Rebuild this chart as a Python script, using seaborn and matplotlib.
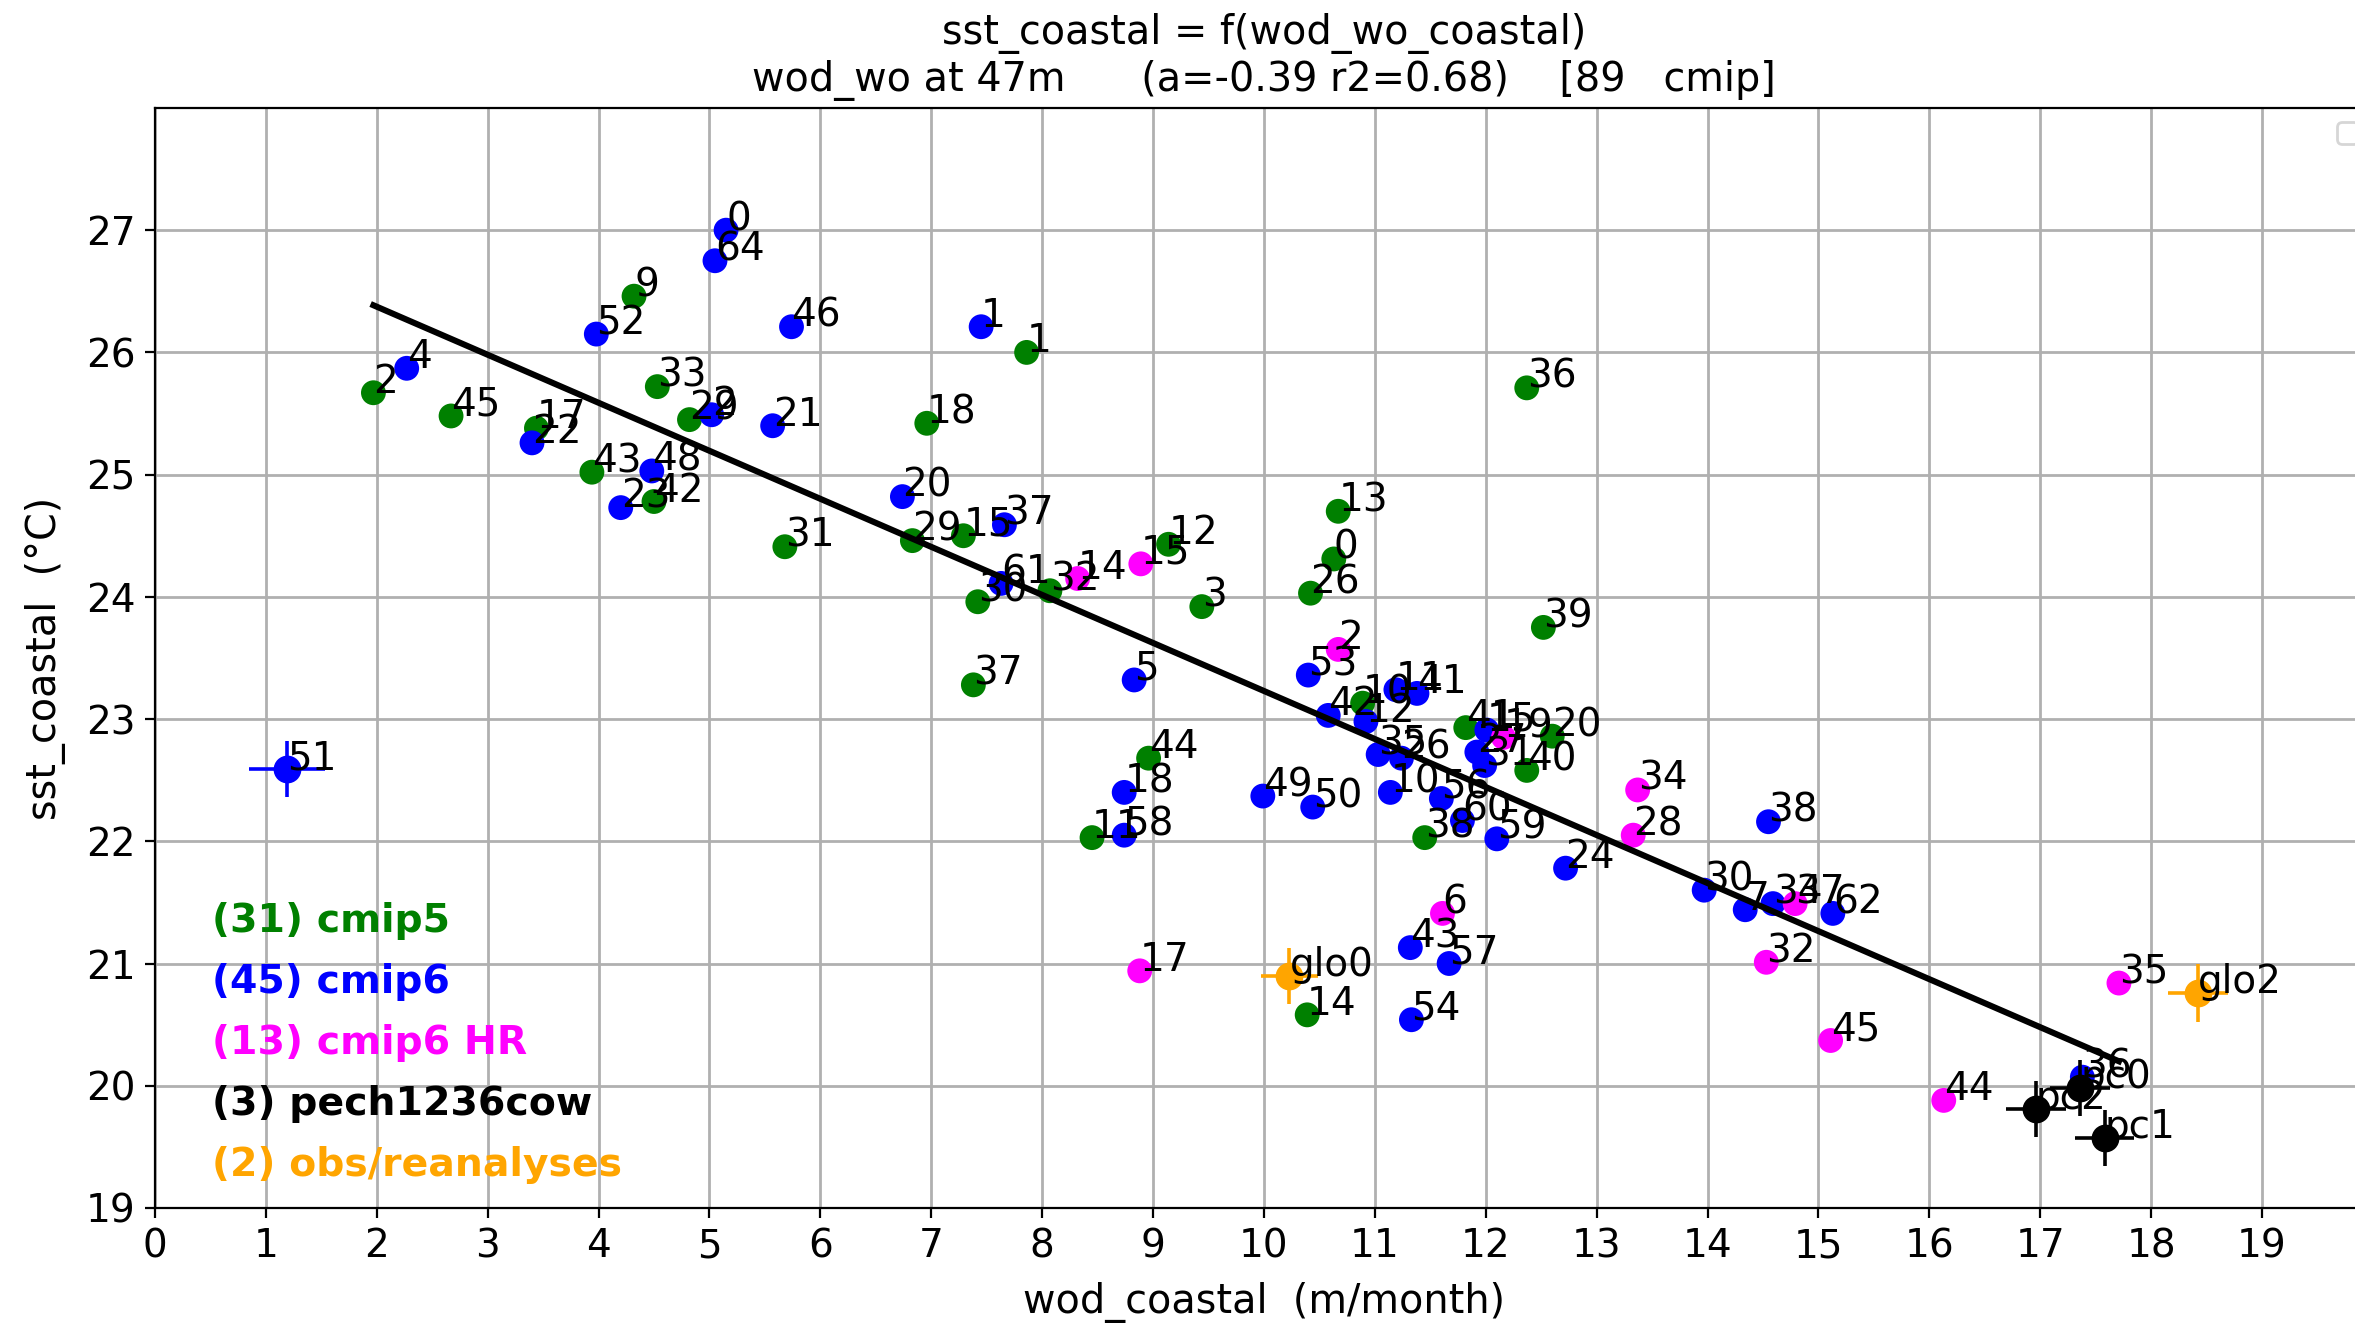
import numpy as np
import pandas as pd
import matplotlib
matplotlib.use("Agg")
import matplotlib.pyplot as plt
import seaborn as sns

# ---------------- data ----------------
cmip5_labels = ["9", "2", "45", "17", "33", "29", "43", "42", "31", "18", "1", "29",
                "15", "30", "32", "12", "3", "26", "0", "13", "36", "39", "37", "44",
                "11", "14", "38", "40", "20", "41", "10"]
cmip5_x = [4.32, 1.97, 2.67, 3.44, 4.53, 4.82, 3.94, 4.50, 5.68, 6.96, 7.86, 6.83,
           7.29, 7.42, 8.07, 9.14, 9.44, 10.42, 10.63, 10.67, 12.37, 12.52, 7.38, 8.96,
           8.45, 10.39, 11.45, 12.37, 12.60, 11.82, 10.89]
cmip5_y = [26.46, 25.67, 25.48, 25.38, 25.72, 25.45, 25.02, 24.78, 24.41, 25.42, 26.00, 24.46,
           24.50, 23.96, 24.05, 24.43, 23.92, 24.03, 24.31, 24.70, 25.71, 23.75, 23.28, 22.68,
           22.03, 20.58, 22.03, 22.58, 22.86, 22.93, 23.13]

cmip6_labels = ["0", "64", "52", "46", "4", "22", "2", "21", "48", "23", "20", "37",
                "61", "1", "5", "18", "58", "49", "50", "53", "42", "12", "11", "41",
                "35", "26", "10", "56", "60", "59", "15", "27", "31", "24", "30", "7",
                "34", "62", "38", "43", "57", "54", "36"]
cmip6_x = [5.15, 5.05, 3.98, 5.74, 2.27, 3.40, 5.02, 5.57, 4.48, 4.20, 6.74, 7.66,
           7.63, 7.45, 8.83, 8.74, 8.74, 9.99, 10.44, 10.40, 10.58, 10.92, 11.19, 11.38,
           11.03, 11.24, 11.14, 11.60, 11.79, 12.10, 12.01, 11.92, 11.99, 12.72, 13.97, 14.34,
           14.59, 15.13, 14.55, 11.32, 11.67, 11.33, 17.38]
cmip6_y = [27.00, 26.75, 26.15, 26.21, 25.87, 25.26, 25.49, 25.40, 25.03, 24.73, 24.82, 24.59,
           24.11, 26.21, 23.32, 22.40, 22.05, 22.37, 22.28, 23.36, 23.03, 22.98, 23.24, 23.21,
           22.71, 22.68, 22.40, 22.35, 22.17, 22.02, 22.91, 22.73, 22.62, 21.78, 21.60, 21.44,
           21.49, 21.41, 22.16, 21.13, 21.00, 20.54, 20.07]

# cmip6 model drawn with error bars
cmip6_err_labels = ["51"]
cmip6_err_x = [1.19]
cmip6_err_y = [22.59]
cmip6_err_xerr = [0.34]
cmip6_err_yerr = [0.23]

hr_labels = ["14", "15", "2", "19", "34", "28", "6", "17", "37", "32", "45", "35", "44"]
hr_x = [8.32, 8.89, 10.67, 12.16, 13.37, 13.33, 11.61, 8.88, 14.79, 14.53, 15.11, 17.71, 16.13]
hr_y = [24.15, 24.27, 23.57, 22.85, 22.42, 22.05, 21.41, 20.94, 21.49, 21.01, 20.37, 20.84, 19.88]

pech_labels = ["pc0", "pc1", "pc2"]
pech_x = [17.36, 17.58, 16.96]
pech_y = [19.98, 19.57, 19.81]
pech_xerr = [0.27, 0.27, 0.27]
pech_yerr = [0.23, 0.23, 0.23]

obs_labels = ["glo0", "glo2"]
obs_x = [10.23, 18.42]
obs_y = [20.90, 20.76]
obs_xerr = [0.26, 0.27]
obs_yerr = [0.23, 0.24]

fit_slope = -0.393
fit_intercept = 27.16

legend_lines = ["(31) cmip5", "(45) cmip6", "(13) cmip6 HR", "(3) pech1236cow", "(2) obs/reanalyses"]
group_names = ["cmip5", "cmip6", "cmip6 HR", "pech1236cow", "obs"]
group_colors = ["green", "blue", "magenta", "black", "orange"]

title_text = ("sst_coastal = f(wod_wo_coastal)\n"
              "wod_wo at 47m      (a=-0.39 r2=0.68)    [89   cmip]")
x_label = "wod_coastal  (m/month)"
y_label = "sst_coastal  (°C)"
x_ticks = list(range(0, 20))
y_ticks = list(range(19, 28))

# ---------------- figure ----------------
plt.rcParams["font.family"] = ["DejaVu Sans"]
fig = plt.figure(figsize=(11.775, 6.64), dpi=200)
ax = fig.add_axes([0.0658, 0.0904, 0.9418, 0.8283])

ax.set_axisbelow(True)
ax.grid(True, color="#b0b0b0", linewidth=1.0)

palette = dict(zip(group_names, group_colors))
df = pd.concat([
    pd.DataFrame({"x": cmip5_x, "y": cmip5_y, "label": cmip5_labels, "group": "cmip5"}),
    pd.DataFrame({"x": cmip6_x, "y": cmip6_y, "label": cmip6_labels, "group": "cmip6"}),
    pd.DataFrame({"x": hr_x, "y": hr_y, "label": hr_labels, "group": "cmip6 HR"}),
], ignore_index=True)

sns.scatterplot(data=df, x="x", y="y", hue="group", palette=palette, s=80,
                linewidth=0, legend=False, ax=ax, zorder=2)

# points with error bars
for xs, ys, xe, ye, col in [
    (cmip6_err_x, cmip6_err_y, cmip6_err_xerr, cmip6_err_yerr, "blue"),
    (pech_x, pech_y, pech_xerr, pech_yerr, "black"),
    (obs_x, obs_y, obs_xerr, obs_yerr, "orange"),
]:
    ax.errorbar(xs, ys, xerr=xe, yerr=ye, fmt="o", color=col, ms=9,
                elinewidth=1.3, capsize=0, zorder=2)

# regression line over the range of the model points
fx = np.array([df["x"].min(), df["x"].max()])
sns.lineplot(x=fx, y=fit_slope * fx + fit_intercept, color="black", linewidth=2.2,
             ax=ax, zorder=3)

# point labels
all_labels = (list(zip(df["x"], df["y"], df["label"]))
              + list(zip(cmip6_err_x, cmip6_err_y, cmip6_err_labels))
              + list(zip(pech_x, pech_y, pech_labels))
              + list(zip(obs_x, obs_y, obs_labels)))
for x, y, lab in all_labels:
    ax.text(x, y, lab, fontsize=14, color="black", zorder=4)

# coloured text legend
for i, (txt, col) in enumerate(zip(legend_lines, group_colors)):
    ax.text(0.51, 21.35 - 0.5 * i, txt, color=col, fontsize=14.2, fontweight="bold",
            va="center", ha="left", zorder=4)

ax.set_xlim(0, 20)
ax.set_ylim(19, 28)
ax.set_xticks(x_ticks)
ax.set_yticks(y_ticks)
ax.tick_params(labelsize=14)
ax.set_xlabel(x_label, fontsize=14.3, labelpad=6)
ax.set_ylabel(y_label, fontsize=14.3, labelpad=7)
ax.set_title(title_text, fontsize=14.3)

ax.legend(handles=[], labels=[], loc="upper right")

fig.savefig("out.png", dpi=200)
